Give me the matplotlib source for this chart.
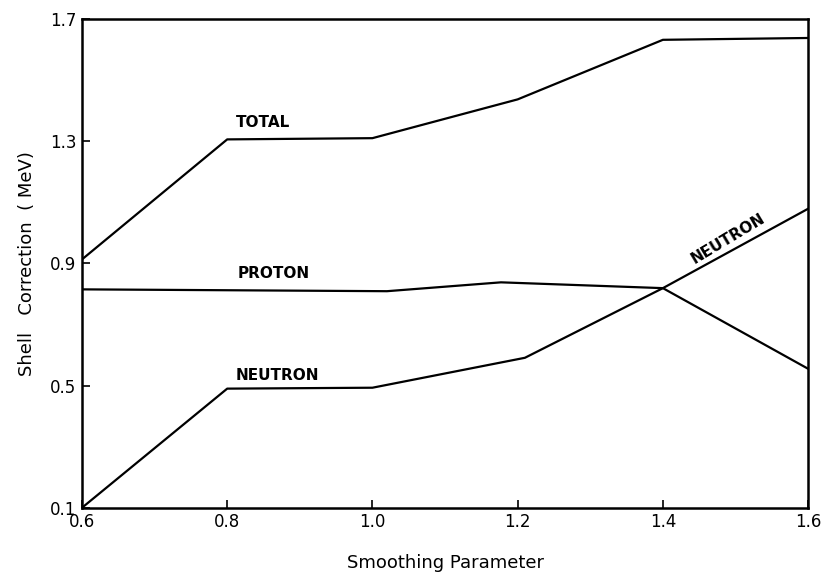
import matplotlib
matplotlib.use("Agg")
import matplotlib.pyplot as plt

# Data
total_x = [0.6, 0.8, 1.0, 1.2, 1.4, 1.6]
total_y = [0.913, 1.306, 1.31, 1.437, 1.632, 1.638]

proton_x = [0.6, 1.02, 1.177, 1.4, 1.6]
proton_y = [0.815, 0.809, 0.838, 0.819, 0.555]

neutron_x = [0.6, 0.8, 1.0, 1.21, 1.4, 1.6]
neutron_y = [0.1, 0.49, 0.493, 0.591, 0.819, 1.079]

xticks = [0.6, 0.8, 1.0, 1.2, 1.4, 1.6]
xticklabels = ["0.6", "0.8", "1.0", "1.2", "1.4", "1.6"]
yticks = [0.1, 0.5, 0.9, 1.3, 1.7]
yticklabels = ["0.1", "0.5", "0.9", "1.3", "1.7"]

plt.rcParams['font.family'] = ['DejaVu Sans']

fig = plt.figure(figsize=(8.28, 5.77), dpi=100)
ax = fig.add_axes([0.099, 0.12, 0.877, 0.847])

lw = 1.6
ax.plot(total_x, total_y, color='black', lw=lw)
ax.plot(proton_x, proton_y, color='black', lw=lw)
ax.plot(neutron_x, neutron_y, color='black', lw=lw)

ax.set_xlim(0.6, 1.6)
ax.set_ylim(0.1, 1.7)
ax.set_xticks(xticks)
ax.set_xticklabels(xticklabels)
ax.set_yticks(yticks)
ax.set_yticklabels(yticklabels)
ax.tick_params(direction='in', length=6, width=1.2, labelsize=12, pad=4)

for s in ax.spines.values():
    s.set_linewidth(1.8)

ax.text(0.812, 1.362, "TOTAL", fontsize=11, fontweight='bold', va='center', ha='left')
ax.text(0.814, 0.867, "PROTON", fontsize=11, fontweight='bold', va='center', ha='left')
ax.text(0.811, 0.532, "NEUTRON", fontsize=11, fontweight='bold', va='center', ha='left')
ax.text(1.49, 0.982, "NEUTRON", fontsize=11, fontweight='bold', va='center', ha='center',
        rotation=31, rotation_mode='anchor')

ax.set_xlabel("Smoothing Parameter", fontsize=13, labelpad=16)
ax.set_ylabel("Shell   Correction  ( MeV)", fontsize=13, labelpad=10)

fig.savefig("out.png", dpi=100)
